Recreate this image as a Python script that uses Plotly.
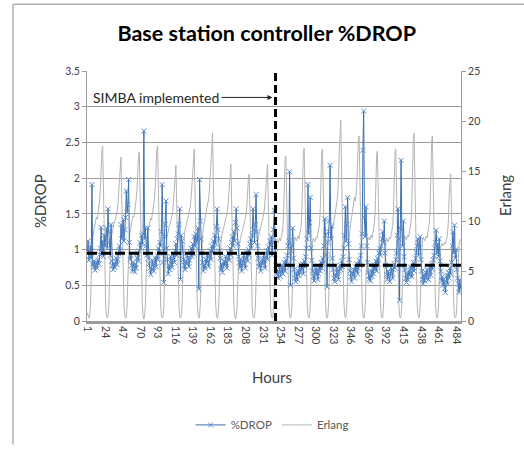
import plotly.graph_objects as go

# ---------------- data ----------------
DROP_PCT = [
    0.98,1.12,0.85,0.92,1.05,0.88,1.91,0.80,0.76,0.84,0.71,0.78,0.82,0.74,0.86,0.80,0.93,1.02,1.31,0.96,1.12,0.90,1.20,1.05,
    1.18,1.30,1.02,1.57,1.25,1.10,0.92,1.35,0.84,0.78,0.72,0.80,0.75,0.83,0.88,0.79,0.86,0.94,1.05,0.98,1.35,1.15,1.22,1.42,
    1.12,1.28,1.45,1.82,1.52,1.63,1.98,1.10,0.86,0.92,0.78,0.70,0.82,0.76,0.69,0.80,0.74,0.88,0.95,0.84,0.98,1.10,1.02,1.20,
    1.08,1.22,2.66,1.15,1.30,1.05,0.92,1.30,0.88,0.80,0.74,0.65,0.72,0.85,0.78,0.70,0.82,0.88,0.76,0.92,0.86,1.02,0.95,1.10,
    1.05,1.25,1.91,0.82,0.54,1.18,1.35,1.68,1.02,0.86,0.66,0.78,0.72,0.90,0.84,0.75,0.88,0.94,0.82,0.98,1.08,0.92,1.15,1.22,
    1.35,1.57,0.58,1.20,1.12,0.95,0.86,0.78,0.72,0.84,0.80,0.92,0.88,0.76,0.85,0.96,1.02,0.90,1.08,0.94,1.18,1.05,1.22,1.10,
    1.12,1.30,0.45,1.98,1.40,1.15,0.95,0.82,0.70,0.78,0.74,0.86,0.80,0.92,0.84,0.76,0.90,0.98,0.86,1.05,0.96,1.12,1.02,1.20,
    1.08,1.32,1.57,1.28,1.15,0.98,0.88,0.72,0.80,0.68,0.76,0.84,0.78,0.90,0.82,0.74,0.88,0.95,0.85,1.02,0.92,1.10,1.18,1.05,
    1.25,1.12,1.38,1.57,1.30,1.08,0.90,0.82,0.75,0.86,0.70,0.78,0.84,0.92,0.80,0.74,0.88,0.96,0.84,1.00,0.92,1.08,1.15,1.02,
    1.20,1.57,1.28,1.10,1.35,1.77,1.25,1.05,0.88,0.76,0.82,0.70,0.78,0.86,0.80,0.92,0.85,0.74,0.90,0.98,0.86,1.04,0.95,1.12,
    1.05,1.18,0.92,1.10,1.28,1.55,1.02,0.78,0.65,0.72,0.60,0.68,0.75,0.62,0.70,0.78,0.66,0.74,0.82,0.70,0.86,0.78,0.92,1.05,
    1.12,2.09,0.50,0.98,1.05,1.30,0.88,0.72,0.60,0.55,0.66,0.58,0.70,0.64,0.74,0.68,0.78,0.72,0.80,0.66,0.84,0.76,0.90,1.02,
    1.15,1.91,1.22,1.38,1.73,1.02,0.85,0.70,0.62,0.56,0.68,0.74,0.64,0.72,0.58,0.66,0.76,0.70,0.82,0.74,0.88,0.80,1.05,1.43,
    1.20,0.92,0.48,1.10,1.25,1.40,2.18,1.15,1.33,0.88,0.72,0.60,0.55,0.66,0.62,0.74,0.68,0.58,0.70,0.78,0.72,0.84,0.76,0.90,
    1.02,1.20,1.60,1.12,1.35,1.73,1.08,0.86,0.70,0.62,0.55,0.68,0.64,0.72,0.60,0.76,0.70,0.80,0.66,0.74,0.85,0.78,0.92,1.05,
    1.22,2.39,2.94,1.45,1.18,1.60,1.05,0.82,0.68,0.58,0.64,0.56,0.70,0.62,0.74,0.66,0.78,0.72,0.84,0.70,0.88,0.80,0.95,1.02,
    0.92,1.05,1.15,1.25,1.10,1.40,0.95,0.78,0.65,0.58,0.70,0.62,0.55,0.66,0.74,0.68,0.60,0.72,0.80,0.74,0.86,0.95,1.20,1.57,
    1.15,0.29,1.30,2.25,1.28,1.05,1.40,0.90,0.72,0.60,0.54,0.66,0.58,0.70,0.64,0.76,0.68,0.62,0.74,0.82,0.70,0.80,0.88,0.96,
    1.05,1.15,0.92,1.08,1.18,0.86,0.70,0.58,0.52,0.64,0.56,0.68,0.60,0.72,0.66,0.58,0.70,0.76,0.64,0.80,0.72,0.86,0.92,1.02,
    1.10,1.27,0.95,1.08,0.90,1.15,0.84,0.70,0.56,0.62,0.50,0.58,0.46,0.40,0.55,0.64,0.52,0.68,0.60,0.74,0.66,0.82,1.05,1.25,
    0.95,1.34,0.88,1.00,0.72,0.60,0.52,0.40,0.58,0.45,
]

ERLANG = [
    0.8,0.4,0.3,0.5,1.6,4.2,6.8,8.2,8.9,9.4,9.8,10.1,10.4,10.2,10.8,11.3,12.0,13.4,15.6,17.0,17.5,13.2,8.1,4.0,
    1.6,0.5,0.3,0.5,1.4,3.9,6.5,8.0,8.6,9.1,9.5,9.8,10.0,10.3,10.6,11.0,11.6,12.8,14.7,16.0,16.4,12.5,7.6,3.8,
    1.5,0.6,0.3,0.4,1.5,4.1,6.9,8.3,9.0,9.3,9.9,10.2,10.5,10.4,10.9,11.5,12.2,13.1,15.2,16.5,16.9,12.9,7.9,4.1,
    1.7,0.5,0.2,0.5,1.7,4.4,7.1,8.5,9.2,9.6,10.0,10.3,10.1,10.6,11.0,11.4,12.3,13.6,15.8,17.1,17.5,13.4,8.2,4.2,
    1.6,0.5,0.3,0.4,1.3,3.8,6.2,7.6,8.3,8.8,9.0,9.4,9.6,9.9,10.2,10.6,11.1,12.2,13.9,15.2,15.6,11.8,7.3,3.7,
    1.4,0.4,0.3,0.5,1.6,4.3,7.0,8.4,9.1,9.5,9.9,10.2,10.4,10.7,11.1,11.6,12.4,13.5,15.5,16.8,17.2,13.0,8.0,4.0,
    1.8,0.6,0.3,0.5,1.8,4.6,7.3,8.7,9.4,9.8,10.3,10.6,10.9,11.2,11.7,12.3,13.2,14.5,16.9,18.3,18.8,14.1,8.6,4.4,
    1.9,0.6,0.3,0.4,1.4,3.9,6.4,7.8,8.5,8.9,9.2,9.6,9.8,10.1,10.4,10.8,11.3,12.4,14.1,15.3,15.7,12.0,7.4,3.7,
    1.5,0.5,0.2,0.4,1.3,3.6,6.0,7.4,8.1,8.5,8.8,9.1,9.3,9.6,9.9,10.2,10.7,11.6,13.2,14.3,14.7,11.3,7.0,3.5,
    1.4,0.5,0.3,0.4,1.4,3.8,6.3,7.7,8.4,8.8,9.1,9.5,9.7,10.0,10.3,10.7,11.2,12.3,14.0,15.3,15.7,11.9,7.3,3.6,
    1.5,0.5,0.3,0.4,1.5,4.0,6.6,8.0,8.2,8.0,7.8,8.1,8.3,8.0,8.4,8.7,9.2,10.5,13.8,16.1,16.5,12.4,7.6,3.8,
    1.6,0.5,0.3,0.5,1.6,4.2,6.8,8.1,8.4,8.2,8.0,8.3,8.5,8.2,8.6,8.9,9.5,10.9,14.4,16.8,17.3,12.9,7.9,3.9,
    1.7,0.6,0.3,0.4,1.5,4.1,6.7,8.0,8.3,8.1,7.9,8.2,8.4,8.3,8.7,9.0,9.6,11.0,14.5,16.8,17.2,12.8,7.8,3.9,
    1.8,0.6,0.3,0.5,1.7,4.5,7.2,8.6,9.0,9.2,9.5,9.9,10.4,10.8,11.3,12.0,12.8,14.2,17.0,19.5,20.1,15.0,9.1,4.5,
    2.0,0.7,0.3,0.5,1.7,4.4,7.0,8.4,9.2,9.8,10.5,11.2,11.8,12.1,12.4,12.0,12.6,13.8,16.2,18.0,18.5,13.9,8.5,4.2,
    1.9,0.6,0.3,0.4,1.5,4.1,6.7,8.0,8.4,8.3,8.1,8.4,8.6,8.3,8.7,9.1,9.7,11.0,14.3,16.6,17.0,12.7,7.8,3.9,
    1.7,0.5,0.3,0.4,1.5,4.0,6.6,7.9,8.3,8.1,7.9,8.2,8.4,8.2,8.6,8.9,9.5,10.9,14.4,16.8,17.2,12.8,7.8,3.9,
    1.7,0.6,0.3,0.5,1.6,4.2,6.9,8.2,8.5,8.3,8.1,8.4,8.6,8.4,8.8,9.2,9.9,11.4,15.3,18.2,18.8,14.0,8.5,4.2,
    1.9,0.6,0.3,0.4,1.6,4.2,6.8,8.1,8.4,8.2,8.0,8.3,8.5,8.3,8.7,9.1,9.8,11.2,15.0,17.9,18.5,13.8,8.4,4.2,
    1.8,0.6,0.3,0.4,1.4,3.7,6.1,7.4,7.8,7.6,7.5,7.7,7.9,7.7,8.0,8.3,8.9,10.0,12.6,14.3,14.7,11.2,6.9,3.5,
    1.6,0.5,0.3,0.4,1.4,3.8,6.3,7.6,8.0,8.2,
]

HOURS = list(range(1, len(DROP_PCT) + 1))
TICK_HOURS = [1, 24, 47, 70, 93, 116, 139, 162, 185, 208, 231, 254, 277, 300,
              323, 346, 369, 392, 415, 438, 461, 484]
SIMBA_HOUR = 247.5          # hour at which SIMBA was implemented
MEAN_BEFORE = 0.95          # average %DROP before SIMBA
MEAN_AFTER = 0.78           # average %DROP after SIMBA

FONT = "Lato"
BLUE = "#3a6fb0"
GREY_LINE = "#b4b4b4"
AXIS_GREY = "#9c9c9c"

fig = go.Figure()

# Erlang (secondary scale, drawn behind)
fig.add_trace(go.Scatter(
    x=HOURS[:len(ERLANG)], y=ERLANG, name="Erlang", mode="lines",
    line=dict(color=GREY_LINE, width=1), yaxis="y", legendrank=2,
))

# %DROP
fig.add_trace(go.Scatter(
    x=HOURS, y=DROP_PCT, name="%DROP", mode="lines+markers",
    line=dict(color=BLUE, width=1),
    marker=dict(symbol="x-thin", size=5, line=dict(color="#5a8ccc", width=1)),
    yaxis="y2", legendrank=1,
))

# mean lines before / after
fig.add_trace(go.Scatter(
    x=[HOURS[0] - 0.5, SIMBA_HOUR, HOURS[-1] + 0.5],
    y=[MEAN_BEFORE, MEAN_AFTER, MEAN_AFTER],
    mode="lines", line=dict(color="black", width=3, dash="10px,4px", shape="hv"),
    yaxis="y2", showlegend=False, hoverinfo="skip",
))

fig.add_shape(type="line", xref="x", yref="paper", x0=SIMBA_HOUR, x1=SIMBA_HOUR,
              y0=0, y1=1, line=dict(color="black", width=3, dash="8px,4px"),
              layer="above")

# chart-area border (top and left)
fig.add_shape(type="line", xref="paper", yref="paper",
              x0=(13 - 87) / 374, x1=(524 - 87) / 374,
              y0=(326 - 3) / 255, y1=(326 - 3) / 255,
              line=dict(color="#b0b0b0", width=1.5))
fig.add_shape(type="line", xref="paper", yref="paper",
              x0=(13 - 87) / 374, x1=(13 - 87) / 374,
              y0=(326 - 3) / 255, y1=(326 - 452) / 255,
              line=dict(color="#b0b0b0", width=1.5))

fig.add_annotation(
    x=SIMBA_HOUR - 4, y=3.13, xref="x", yref="y2",
    text="SIMBA implemented", showarrow=True, ax=-51, ay=0,
    xanchor="right", arrowhead=2, arrowsize=1, arrowwidth=1, arrowcolor="#222222",
    font=dict(family=FONT, size=14, color="#262626"),
)

# axis titles
fig.add_annotation(x=(40 - 87) / 374, y=0.48, xref="paper", yref="paper",
                   xanchor="center", yanchor="middle",
                   text="%DROP", showarrow=False, textangle=-90,
                   font=dict(family=FONT, size=15, color="#404040"))
fig.add_annotation(x=(505 - 87) / 374, y=0.50, xref="paper", yref="paper",
                   xanchor="center", yanchor="middle",
                   text="Erlang", showarrow=False, textangle=-90,
                   font=dict(family=FONT, size=15, color="#404040"))
fig.add_annotation(x=(272 - 87) / 374, y=(326 - 383) / 255, xref="paper", yref="paper",
                   xanchor="center", yanchor="middle",
                   text="Hours", showarrow=False,
                   font=dict(family=FONT, size=15, color="#404040"))

fig.update_layout(
    width=524, height=452,
    margin=dict(l=87, r=63, t=71, b=126),
    paper_bgcolor="white", plot_bgcolor="white",
    font=dict(family=FONT, color="#404040"),
    title=dict(text="<b>Base station controller %DROP</b>", x=0.509, xanchor="center",
               y=1 - 33 / 452, yanchor="middle",
               font=dict(family=FONT, size=21.5, color="black")),
    xaxis=dict(range=[0.5, HOURS[-1] + 0.5], tickmode="array", tickvals=TICK_HOURS,
               ticktext=[str(t) for t in TICK_HOURS], tickangle=90,
               showgrid=False, zeroline=False, showline=True, linewidth=3,
               linecolor=AXIS_GREY, ticks="", tickfont=dict(size=10.5, color="#404040")),
    yaxis=dict(side="right", range=[0, 25], dtick=5, showgrid=False, zeroline=False,
               showline=True, linecolor=AXIS_GREY, linewidth=1, ticks="outside",
               ticklen=4, tickcolor=AXIS_GREY, tickfont=dict(size=10.5, color="#404040")),
    yaxis2=dict(side="left", overlaying="y", range=[0, 3.5], dtick=0.5, showgrid=True,
                gridcolor=AXIS_GREY, gridwidth=1, zeroline=False, showline=True,
                linecolor=AXIS_GREY, linewidth=1, ticks="outside", ticklen=4,
                tickcolor=AXIS_GREY, tickfont=dict(size=10.5, color="#404040")),
    legend=dict(orientation="h", x=0.495, xanchor="center", y=(326 - 432) / 255,
                yanchor="middle", font=dict(family=FONT, size=11.5, color="#595959"),
                itemwidth=30, bgcolor="rgba(0,0,0,0)"),
    showlegend=True,
)

fig.write_html("out.html", config={"displayModeBar": False},
               post_script="document.body.style.margin='0px';")
